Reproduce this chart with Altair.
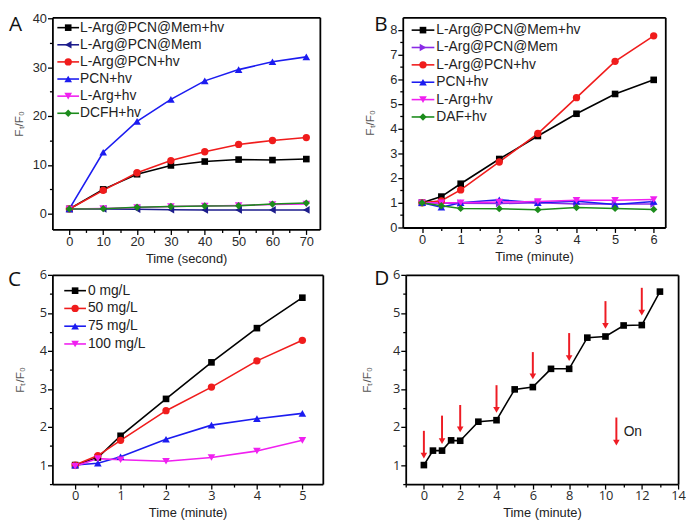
import altair as alt
import pandas as pd

# ---------------- data ----------------
panel_letters = ["A", "B", "C", "D"]
y_title = "F\u209c/F\u2080"

# Panel A
a_time = [0, 10, 20, 30, 40, 50, 60, 70]
a_names = ["L-Arg@PCN@Mem+hv", "L-Arg@PCN@Mem", "L-Arg@PCN+hv", "PCN+hv", "L-Arg+hv", "DCFH+hv"]
a_mem_hv = [1.0, 5.0, 8.1, 9.9, 10.7, 11.1, 11.0, 11.2]
a_mem = [1.0, 1.0, 0.95, 0.85, 0.8, 0.8, 0.8, 0.8]
a_pcn_arg_hv = [1.0, 4.8, 8.4, 10.9, 12.7, 14.2, 15.0, 15.6]
a_pcn_hv = [1.0, 12.6, 18.9, 23.4, 27.2, 29.5, 31.1, 32.1]
a_arg_hv = [1.0, 1.1, 1.3, 1.5, 1.6, 1.7, 1.9, 2.0]
a_dcfh_hv = [1.0, 1.05, 1.35, 1.5, 1.6, 1.65, 2.0, 2.2]

# Panel B
b_time = [0, 0.5, 1, 2, 3, 4, 5, 6]
b_names = ["L-Arg@PCN@Mem+hv", "L-Arg@PCN@Mem", "L-Arg@PCN+hv", "PCN+hv", "L-Arg+hv", "DAF+hv"]
b_mem_hv = [1.0, 1.25, 1.77, 2.77, 3.7, 4.6, 5.4, 5.97]
b_mem = [1.0, 0.98, 0.98, 0.97, 1.0, 0.95, 0.95, 0.95]
b_pcn_arg_hv = [1.0, 1.08, 1.52, 2.65, 3.8, 5.25, 6.72, 7.75]
b_pcn_hv = [1.0, 0.82, 1.0, 1.12, 1.0, 1.06, 0.93, 1.05]
b_arg_hv = [1.0, 1.0, 1.0, 1.03, 1.05, 1.1, 1.1, 1.13]
b_daf_hv = [1.0, 0.88, 0.77, 0.76, 0.72, 0.81, 0.77, 0.73]

# Panel C
c_time = [0, 0.5, 1, 2, 3, 4, 5]
c_names = ["0 mg/L", "50 mg/L", "75 mg/L", "100 mg/L"]
c_0 = [1.0, 1.2, 1.77, 2.74, 3.7, 4.6, 5.4]
c_50 = [1.0, 1.25, 1.65, 2.43, 3.05, 3.74, 4.28]
c_75 = [1.0, 1.05, 1.22, 1.68, 2.05, 2.22, 2.36]
c_100 = [0.97, 1.17, 1.14, 1.1, 1.2, 1.37, 1.65]

# Panel D
d_time = [0, 0.5, 1, 1.5, 2, 3, 4, 5, 6, 7, 8, 9, 10, 11, 12, 13]
d_values = [1.0, 1.38, 1.38, 1.65, 1.64, 2.14, 2.18, 2.99, 3.05, 3.53, 3.53, 4.35, 4.38, 4.67, 4.68, 5.56]
d_arrow_x = [0, 1, 2, 4, 6, 8, 10, 12]
d_arrow_top = [1.9, 2.3, 2.58, 3.1, 3.97, 4.47, 5.31, 5.66]
d_arrow_head = [1.25, 1.63, 1.94, 2.45, 3.33, 3.81, 4.66, 5.01]
d_key_x = [10.6]
d_key_top = [2.25]
d_key_head = [1.59]
d_key_text = ["On"]
d_key_text_x = [11.0]
d_key_text_y = [1.86]

# ---------------- styles ----------------
A_COLORS = ["#000000", "#1c1c8c", "#f01c1c", "#1c1cf0", "#f020f0", "#1c8c1c"]
B_COLORS = ["#000000", "#8a2be6", "#f01c1c", "#1c1cf0", "#f020f0", "#1c8c1c"]
C_COLORS = ["#000000", "#f01c1c", "#1c1cf0", "#f020f0"]
A_SHAPES = ["square", "triangle-left", "circle", "triangle-up", "triangle-down", "diamond"]
B_SHAPES = ["square", "triangle-right", "circle", "triangle-up", "triangle-down", "diamond"]
C_SHAPES = ["square", "circle", "triangle-up", "triangle-down"]

SIZES = {"square": 45, "circle": 55, "triangle-up": 60, "triangle-down": 60,
         "triangle-left": 60, "triangle-right": 60, "diamond": 55}

TXT = "Liberation Sans"
RES = dict(color="independent")
FRAME_W = 1.8


def long_df(time, names, series):
    rows = []
    for n, vals in zip(names, series):
        for t, v in zip(time, vals):
            rows.append({"t": t, "v": v, "s": n})
    return pd.DataFrame(rows)


def axis(vals, major, title, label_font, orient, title_x=None, title_y=None):
    kw = dict(
        values=vals,
        labelExpr=f"({major}) ? format(datum.value, 'd') : ''",
        tickSize={"condition": {"test": major, "value": 5}, "value": 3},
        title=title, grid=False, labelFlush=False, labelOverlap=False,
        labelFont=label_font, labelFontSize=13, labelColor="#2a2a2a",
        domainColor="#000", tickColor="#000", tickWidth=1.3, domainWidth=FRAME_W,
        titleFont=TXT, titleFontWeight="normal",
    )
    if orient == "x":
        kw.update(labelPadding=1, titlePadding=4, titleFontSize=13, titleColor="#222")
    else:
        kw.update(labelPadding=1, titleFontSize=12, titleColor="#555",
                  titleX=title_x, titleY=title_y, titleAngle=270,
                  titleAlign="center", titleBaseline="middle")
    return alt.Axis(**kw)


def frame_axis(orient):
    # plain axis line used to close the plot box on the top / right side
    return alt.Axis(orient=orient, ticks=False, labels=False, title=None, grid=False,
                    domain=True, domainColor="#000", domainWidth=FRAME_W)


def panel(df, names, colors, shapes, xdom, ydom, xvals, xmajor, yvals, ymajor,
          w, h, xtitle, letter, letter_x, letter_y, label_font, ytitle_x,
          legend=None, extra=None):
    xs = alt.Scale(domain=xdom, nice=False, zero=False)
    ys = alt.Scale(domain=ydom, nice=False, zero=False)
    xa = axis(xvals, xmajor, xtitle, label_font, "x")
    ya = axis(yvals, ymajor, y_title, label_font, "y", ytitle_x, h / 2)
    cs = alt.Scale(domain=names, range=colors)
    col = alt.Color("s:N", scale=cs, legend=None)
    chart = alt.Chart(df)
    layers = [
        # lines + bottom/left axes
        chart.mark_line(strokeWidth=1.6).encode(
            x=alt.X("t:Q", scale=xs, axis=xa), y=alt.Y("v:Q", scale=ys, axis=ya),
            color=col),
        # invisible copy that carries the top/right frame axes
        chart.mark_line(opacity=0).encode(
            x=alt.X("t:Q", scale=xs, axis=frame_axis("top")),
            y=alt.Y("v:Q", scale=ys, axis=frame_axis("right")),
            detail="s:N"),
    ]
    for n, sh in zip(names, shapes):
        layers.append(
            chart.transform_filter(alt.datum.s == n)
            .mark_point(filled=True, opacity=1, shape=sh, size=SIZES[sh])
            .encode(x=alt.X("t:Q", scale=xs, axis=None),
                    y=alt.Y("v:Q", scale=ys, axis=None), color=col)
        )
    if legend is not None:
        # legend block: (line start, line end, text start, first row y, row step) in px
        x0, x1, xt, y0, dy = legend
        key = pd.DataFrame({"s": names})
        for i, (n, sh) in enumerate(zip(names, shapes)):
            yy = y0 + i * dy
            kb = alt.Chart(key).transform_filter(alt.datum.s == n)
            layers.append(kb.mark_rule(strokeWidth=1.6).encode(
                x=alt.value(x0), x2=alt.value(x1), y=alt.value(yy), color=col))
            layers.append(kb.mark_point(filled=True, opacity=1, shape=sh,
                                        size=SIZES[sh]).encode(
                x=alt.value((x0 + x1) / 2), y=alt.value(yy), color=col))
            layers.append(kb.mark_text(font=TXT, fontSize=14, align="left",
                                       baseline="middle", color="#222").encode(
                x=alt.value(xt), y=alt.value(yy), text="s:N"))
    if extra is not None:
        layers.extend(extra(xs, ys))
    layers.append(
        alt.Chart(pd.DataFrame({"letter": [letter]}))
        .mark_text(font="Open Sans", fontSize=21, align="left", baseline="alphabetic",
                   color="#111")
        .encode(text="letter:N", x=alt.value(letter_x), y=alt.value(letter_y))
    )
    return (alt.layer(*layers).properties(width=w, height=h)
            .resolve_axis(x="independent", y="independent"))


def d_extra(xs, ys):
    arrows = pd.DataFrame({"t": d_arrow_x + d_key_x, "top": d_arrow_top + d_key_top,
                           "head": d_arrow_head + d_key_head})
    key = pd.DataFrame({"t": d_key_text_x, "v": d_key_text_y, "txt": d_key_text})
    return [
        alt.Chart(arrows).mark_rule(color="#ee1c24", strokeWidth=2).encode(
            x=alt.X("t:Q", scale=xs, axis=None), y=alt.Y("top:Q", scale=ys, axis=None),
            y2="head:Q"),
        alt.Chart(arrows).mark_point(shape="triangle-down", filled=True, opacity=1,
                                     size=45, color="#ee1c24").encode(
            x=alt.X("t:Q", scale=xs, axis=None), y=alt.Y("head:Q", scale=ys, axis=None)),
        alt.Chart(key).mark_text(font=TXT, fontSize=14, align="left", baseline="middle",
                                 color="#222").encode(
            x=alt.X("t:Q", scale=xs, axis=None), y=alt.Y("v:Q", scale=ys, axis=None),
            text="txt:N"),
    ]


# ---------- A ----------
dfa = long_df(a_time, a_names, [a_mem_hv, a_mem, a_pcn_arg_hv, a_pcn_hv, a_arg_hv, a_dcfh_hv])
chart_a = panel(dfa, a_names, A_COLORS, A_SHAPES, [-5, 74], [-3.2, 40.2],
                list(range(0, 75, 5)), "datum.value % 10 === 0",
                list(range(0, 41, 5)), "datum.value % 10 === 0",
                271, 215, "Time (second)", panel_letters[0], -44, 14, TXT, -34,
                legend=(5, 27, 28, 10.5, 17.35))

# ---------- B ----------
dfb = long_df(b_time, b_names, [b_mem_hv, b_mem, b_pcn_arg_hv, b_pcn_hv, b_arg_hv, b_daf_hv])
chart_b = panel(dfb, b_names, B_COLORS, B_SHAPES, [-0.5, 6.3], [0, 8.5],
                [i / 2 for i in range(0, 13)], "datum.value % 1 === 0",
                [i / 2 for i in range(0, 17)], "datum.value % 1 === 0",
                266, 213, "Time (minute)", panel_letters[1], -29, 14, TXT, -34,
                legend=(9, 32, 34, 13, 17.6))

# ---------- C ----------
dfc = long_df(c_time, c_names, [c_0, c_50, c_75, c_100])
chart_c = panel(dfc, c_names, C_COLORS, C_SHAPES, [-0.5, 5.45], [0.5, 6],
                [i / 2 for i in range(0, 11)], "datum.value % 1 === 0",
                [i / 2 for i in range(1, 13)], "datum.value % 1 === 0",
                274, 212, "Time (minute)", panel_letters[2], -45, 11, "Open Sans", -33,
                legend=(12, 34, 36, 16, 18))

# ---------- D ----------
dfd = long_df(d_time, ["F/F0"], [d_values])
chart_d = panel(dfd, ["F/F0"], ["#000000"], ["square"], [-1, 14], [0.5, 6],
                list(range(-1, 15)), "datum.value % 2 === 0",
                [i / 2 for i in range(1, 13)], "datum.value % 1 === 0",
                276, 212, "Time (minute)", panel_letters[3], -32, 10, "Open Sans", -40,
                extra=d_extra)

row1 = alt.hconcat(chart_a, chart_b, spacing=44).resolve_scale(**RES)
row2 = alt.hconcat(chart_c, chart_d, spacing=38).resolve_scale(**RES)
chart = alt.vconcat(row1, row2, spacing=3).resolve_scale(**RES).properties(
    padding={"left": 0, "top": 0, "right": 0, "bottom": 0}
).configure(background="white").configure_view(strokeWidth=0)

chart.save("out.html", embed_options={"renderer": "svg", "actions": False})
